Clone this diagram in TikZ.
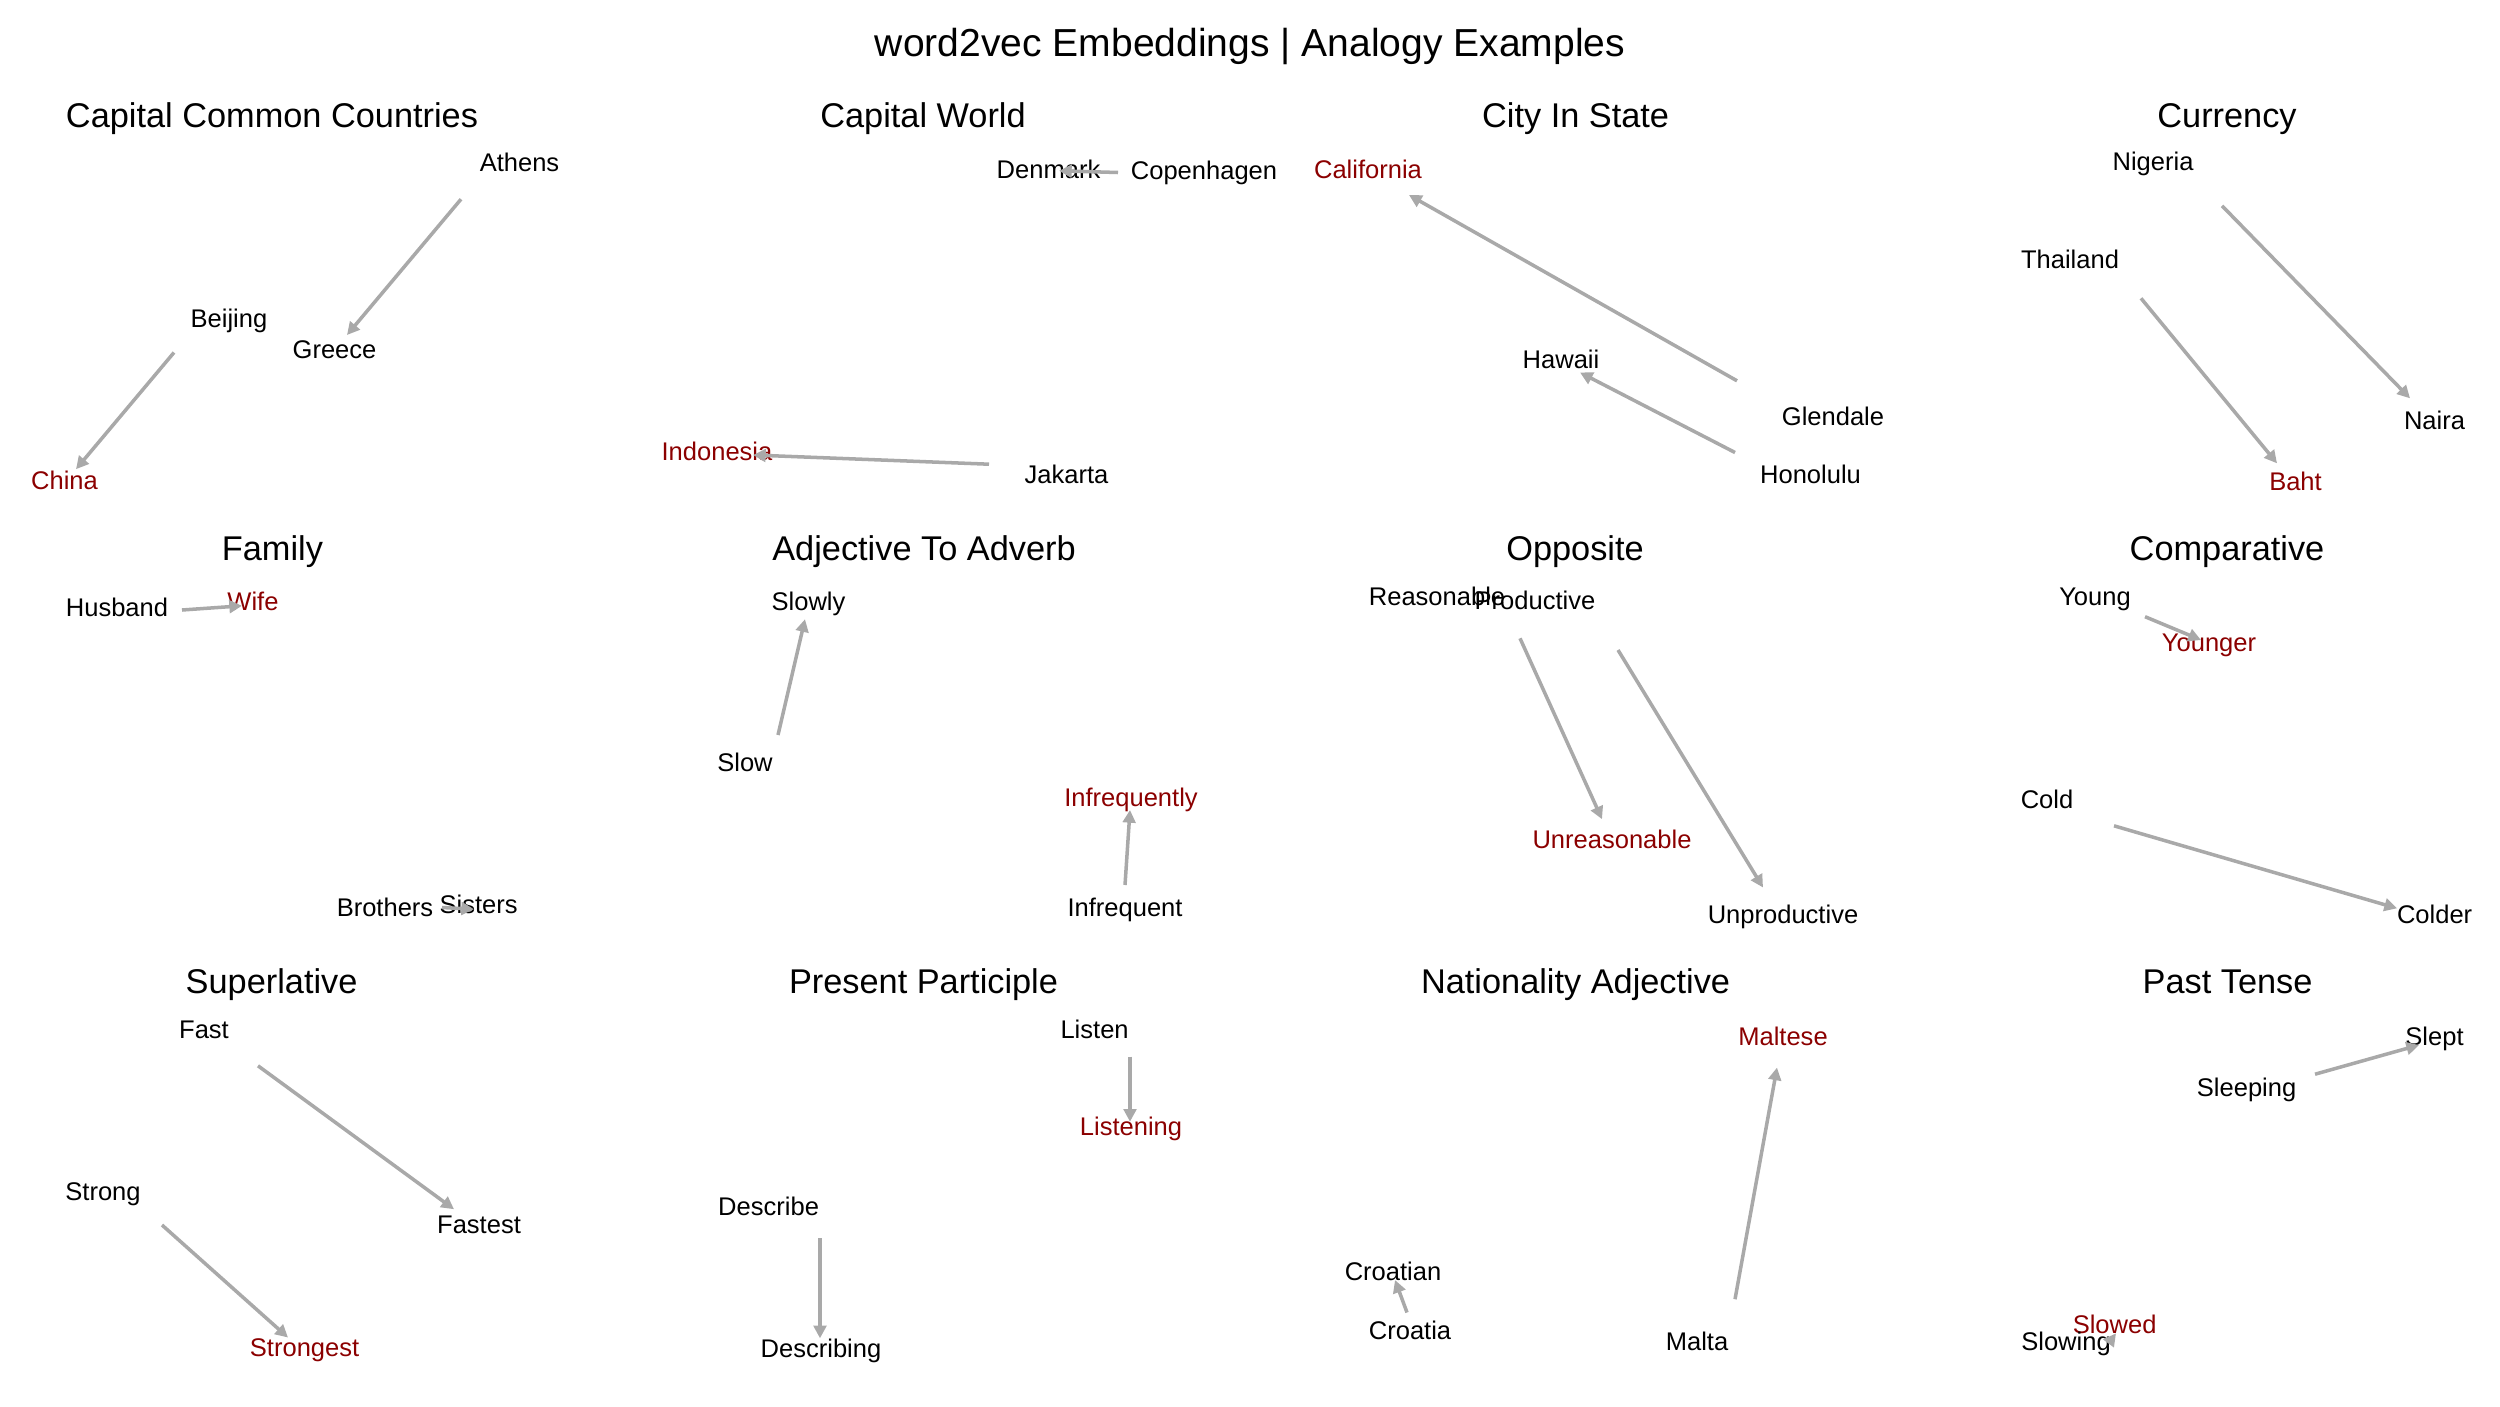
\documentclass[tikz,border=0pt]{standalone}
\usepackage{fontspec}
\setmainfont{Liberation Sans}
\usepackage{xcolor}
\usetikzlibrary{arrows.meta}
\definecolor{targetred}{HTML}{8B0000}
\definecolor{arrowgray}{HTML}{A9A9A9}

\begin{document}
\begin{tikzpicture}[x=0.01cm,y=-0.01cm,
  word/.style={anchor=base,inner sep=0pt,font=\fontsize{7.26}{9}\selectfont},
  target/.style={word,text=targetred},
  panel/.style={anchor=base,inner sep=0pt,font=\fontsize{9.76}{12}\selectfont},
  arr/.style={draw=arrowgray,line width=1pt,-{Triangle[length=3.6pt,width=3.6pt]}}]
\useasboundingbox (0,0) rectangle (2500,1406);

\node[anchor=base,inner sep=0pt,font=\fontsize{11.1}{14}\selectfont] (title) at (1250,56.7) {word2vec Embeddings | Analogy Examples};

% Capital Common Countries
\node[panel] (ccc) at (272,127.5) {Capital Common Countries};
\node[word] (athens) at (519.5,171.7) {Athens};
\node[word] (greece) at (334.5,358.3) {Greece};
\node[word] (beijing) at (229,327.5) {Beijing};
\node[target] (china) at (64.5,489.2) {China};
\coordinate (athens-p) at (461,199.2);
\coordinate (greece-p) at (347,335);
\coordinate (beijing-p) at (174,352.5);
\coordinate (china-p) at (76,469.2);
\draw[arr] (athens-p) -- (greece-p);
\draw[arr] (beijing-p) -- (china-p);

% Capital World
\node[panel] (cw) at (923,127.5) {Capital World};
\node[word] (denmark) at (1048.5,178.3) {Denmark};
\node[word] (copenhagen) at (1204,179.2) {Copenhagen};
\node[target] (indonesia) at (717,460) {Indonesia};
\node[word] (jakarta) at (1066.5,483.3) {Jakarta};
\coordinate (copenhagen-p) at (1118,172.5);
\coordinate (denmark-p) at (1059,170.8);
\coordinate (jakarta-p) at (989,464.2);
\coordinate (indonesia-p) at (753,455);
\draw[arr] (copenhagen-p) -- (denmark-p);
\draw[arr] (jakarta-p) -- (indonesia-p);

% City In State
\node[panel] (cis) at (1575.6,127.5) {City In State};
\node[target] (california) at (1368,178.3) {California};
\node[word] (hawaii) at (1561,368.3) {Hawaii};
\node[word] (glendale) at (1833,425) {Glendale};
\node[word] (honolulu) at (1810.5,483.3) {Honolulu};
\coordinate (glendale-p) at (1737,380.8);
\coordinate (california-p) at (1409,195);
\coordinate (honolulu-p) at (1735,452.5);
\coordinate (hawaii-p) at (1580,372.5);
\draw[arr] (glendale-p) -- (california-p);
\draw[arr] (honolulu-p) -- (hawaii-p);

% Currency
\node[panel] (cur) at (2227,127.5) {Currency};
\node[word] (nigeria) at (2153,170.8) {Nigeria};
\node[word] (thailand) at (2070,268.3) {Thailand};
\node[word] (naira) at (2434.5,429.2) {Naira};
\node[target] (baht) at (2295.5,490) {Baht};
\coordinate (nigeria-p) at (2222,205.8);
\coordinate (naira-p) at (2410,398.3);
\coordinate (thailand-p) at (2141,298.3);
\coordinate (baht-p) at (2277,463.3);
\draw[arr] (nigeria-p) -- (naira-p);
\draw[arr] (thailand-p) -- (baht-p);

% Family
\node[panel] (fam) at (272.4,560.8) {Family};
\node[word] (husband) at (117,616.7) {Husband};
\node[target] (wife) at (253,610.8) {Wife};
\node[word] (brothers) at (385,916.7) {Brothers};
\node[word] (sisters) at (478.6,913.3) {Sisters};
\coordinate (husband-p) at (182,610);
\coordinate (wife-p) at (242,605.8);
\coordinate (brothers-p) at (442,907.5);
\coordinate (sisters-p) at (474,909.2);
\draw[arr] (husband-p) -- (wife-p);
\draw[arr] (brothers-p) -- (sisters-p);

% Adjective To Adverb
\node[panel] (ata) at (924,560.8) {Adjective To Adverb};
\node[word] (slowly) at (808.5,610.8) {Slowly};
\node[word] (slow) at (745,771.7) {Slow};
\node[target] (infrequently) at (1131,806.7) {Infrequently};
\node[word] (infrequent) at (1125,916.7) {Infrequent};
\coordinate (slow-p) at (778,735);
\coordinate (slowly-p) at (805,619.2);
\coordinate (infrequent-p) at (1125,885);
\coordinate (infrequently-p) at (1130,810);
\draw[arr] (slow-p) -- (slowly-p);
\draw[arr] (infrequent-p) -- (infrequently-p);

% Opposite
\node[panel] (opp) at (1575,560.8) {Opposite};
\node[word] (reasonable) at (1437,605) {Reasonable};
\node[word] (productive) at (1535,609.2) {Productive};
\node[target] (unreasonable) at (1612,848.3) {Unreasonable};
\node[word] (unproductive) at (1783,923.3) {Unproductive};
\coordinate (reasonable-p) at (1520,638.3);
\coordinate (unreasonable-p) at (1602,819.2);
\coordinate (productive-p) at (1618,650);
\coordinate (unproductive-p) at (1763,887.5);
\draw[arr] (reasonable-p) -- (unreasonable-p);
\draw[arr] (productive-p) -- (unproductive-p);

% Comparative
\node[panel] (comp) at (2227,560.8) {Comparative};
\node[word] (young) at (2095,605) {Young};
\node[target] (younger) at (2209,651.7) {Younger};
\node[word] (cold) at (2047,808.3) {Cold};
\node[word] (colder) at (2434.6,923.3) {Colder};
\coordinate (young-p) at (2145,616.7);
\coordinate (younger-p) at (2201,640);
\coordinate (cold-p) at (2114,825.8);
\coordinate (colder-p) at (2397,908.3);
\draw[arr] (young-p) -- (younger-p);
\draw[arr] (cold-p) -- (colder-p);

% Superlative
\node[panel] (sup) at (271.6,993.3) {Superlative};
\node[word] (fast) at (204,1038.3) {Fast};
\node[word] (strong) at (103,1200) {Strong};
\node[word] (fastest) at (479,1233.3) {Fastest};
\node[target] (strongest) at (304.6,1356.7) {Strongest};
\coordinate (fast-p) at (258,1065.8);
\coordinate (fastest-p) at (454,1209.2);
\coordinate (strong-p) at (162,1225);
\coordinate (strongest-p) at (288,1337.5);
\draw[arr] (fast-p) -- (fastest-p);
\draw[arr] (strong-p) -- (strongest-p);

% Present Participle
\node[panel] (pp) at (923.5,993.3) {Present Participle};
\node[word] (listen) at (1094.6,1038.3) {Listen};
\node[target] (listening) at (1131,1135) {Listening};
\node[word] (describe) at (768.6,1215.8) {Describe};
\node[word] (describing) at (821,1357.5) {Describing};
\coordinate (listen-p) at (1130,1056.7);
\coordinate (listening-p) at (1130,1121.7);
\coordinate (describe-p) at (820,1238.3);
\coordinate (describing-p) at (820,1338.3);
\draw[arr] (listen-p) -- (listening-p);
\draw[arr] (describe-p) -- (describing-p);

% Nationality Adjective
\node[panel] (na) at (1575.6,993.3) {Nationality Adjective};
\node[target] (maltese) at (1783,1045.8) {Maltese};
\node[word] (croatian) at (1393,1280.8) {Croatian};
\node[word] (croatia) at (1410,1339.2) {Croatia};
\node[word] (malta) at (1697,1350) {Malta};
\coordinate (malta-p) at (1735,1299.2);
\coordinate (maltese-p) at (1777,1067.5);
\coordinate (croatia-p) at (1407,1312.5);
\coordinate (croatian-p) at (1395,1280);
\draw[arr] (malta-p) -- (maltese-p);
\draw[arr] (croatia-p) -- (croatian-p);

% Past Tense
\node[panel] (pt) at (2227.5,993.3) {Past Tense};
\node[word] (slept) at (2434.5,1045) {Slept};
\node[word] (sleeping) at (2246.6,1096.7) {Sleeping};
\node[target] (slowed) at (2114.6,1333.3) {Slowed};
\node[word] (slowing) at (2066,1350) {Slowing};
\coordinate (sleeping-p) at (2315,1074.2);
\coordinate (slept-p) at (2419,1045);
\coordinate (slowing-p) at (2111,1340);
\coordinate (slowed-p) at (2116,1333.3);
\draw[arr] (sleeping-p) -- (slept-p);
\draw[arr] (slowing-p) -- (slowed-p);
\end{tikzpicture}
\end{document}
